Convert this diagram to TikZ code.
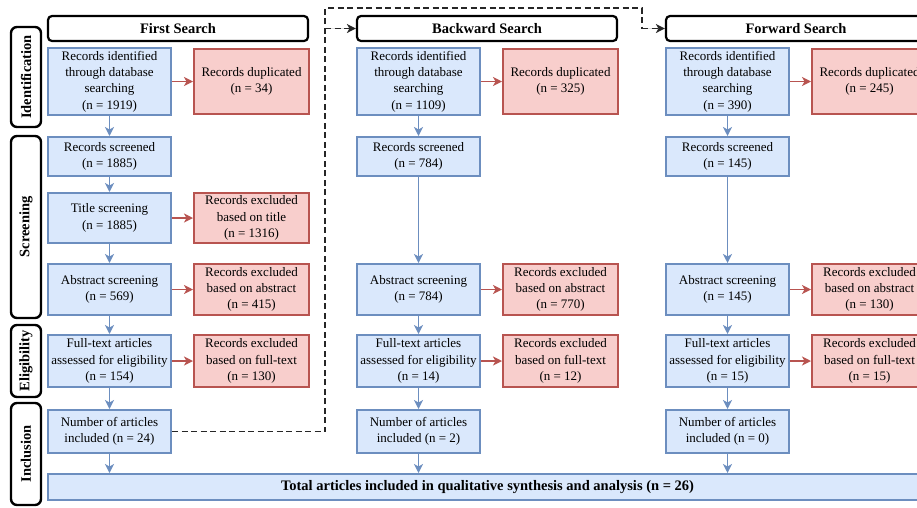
\documentclass[tikz,border=0pt]{standalone}
\usepackage{fontspec}
\setmainfont{Liberation Serif}
\usetikzlibrary{arrows.meta}
\definecolor{bfill}{HTML}{DAE8FC}
\definecolor{bdraw}{HTML}{6C8EBF}
\definecolor{rfill}{HTML}{F8CECC}
\definecolor{rdraw}{HTML}{B85450}
\begin{document}
\begin{tikzpicture}[x=1pt,y=-1pt,
  txt/.style={font=\fontsize{13}{16.3}\selectfont, align=center, inner sep=0pt},
  bbox/.style={txt, draw=bdraw, fill=bfill, line width=2pt, minimum width=123pt},
  rbox/.style={txt, draw=rdraw, fill=rfill, line width=2pt, minimum width=115pt},
  hdr/.style={draw=black, fill=white, line width=2.2pt, rounded corners=4pt, minimum width=260pt, minimum height=25pt, inner sep=0pt, font=\fontsize{14.5}{17}\selectfont\bfseries},
  side/.style={draw=black, line width=2.4pt, rounded corners=6pt, rotate=90, minimum height=30pt, inner sep=0pt, font=\fontsize{14.5}{17}\selectfont\bfseries},
  tip/.style={-{Stealth[length=9pt,width=9pt,inset=2.5pt]}},
  barr/.style={draw=bdraw, line width=1.6pt, tip, fill=bdraw},
  rarr/.style={draw=rdraw, line width=1.6pt, tip, fill=rdraw},
  darr/.style={draw=black!85, line width=1.6pt, dash pattern=on 6pt off 3.5pt},
]
\useasboundingbox (0,0) rectangle (917,507);
\clip (0,0) rectangle (917,507);

% side labels
\node[side, minimum width=100pt] (sId) at (26,77) {Identification};
\node[side, minimum width=182pt] (sSc) at (26,227) {Screening};
\node[side, minimum width=72pt] (sEl) at (26,361) {Eligibility};
\node[side, minimum width=102pt] (sIn) at (26,454) {Inclusion};

% columns
\foreach \k/\xo/\hd/\nid/\ndup/\nscr/\nabs/\nabx/\nft/\nftx/\ninc in {
  1/0/First Search/1919/34/1885/569/415/154/130/24,
  2/309/Backward Search/1109/325/784/784/770/14/12/2,
  3/618/Forward Search/390/245/145/145/130/15/15/0}{
  \node[hdr] (hd\k) at (178+\xo,28.5) {\hd};
  \node[bbox, minimum height=67pt] (id\k) at (109.5+\xo,81.5) {Records identified\\through database\\searching\\(n = \nid)};
  \node[rbox, minimum height=65pt] (dup\k) at (251.5+\xo,81.5) {Records duplicated\\(n = \ndup)};
  \node[bbox, minimum height=39pt] (scr\k) at (109.5+\xo,156.5) {Records screened\\(n = \nscr)};
  \node[bbox, minimum height=51pt] (abs\k) at (109.5+\xo,289.5) {Abstract screening\\(n = \nabs)};
  \node[rbox, minimum height=51pt] (abx\k) at (251.5+\xo,289.5) {Records excluded\\based on abstract\\(n = \nabx)};
  \node[bbox, minimum height=52pt] (ft\k) at (109.5+\xo,361) {Full-text articles\\assessed for eligibility\\(n = \nft)};
  \node[rbox, minimum height=52pt] (ftx\k) at (251.5+\xo,361) {Records excluded\\based on full-text\\(n = \nftx)};
  \node[bbox, minimum height=43pt] (inc\k) at (109.5+\xo,431.5) {Number of articles\\included (n = \ninc)};
  \draw[barr] (id\k) -- (scr\k);
  \draw[rarr] (id\k.east) -- (dup\k.west);
  \draw[rarr] (abs\k.east) -- (abx\k.west);
  \draw[rarr] (ft\k.east) -- (ftx\k.west);
  \draw[barr] (abs\k) -- (ft\k);
  \draw[barr] (ft\k) -- (inc\k);
}
\node[bbox, minimum height=50pt] (tit1) at (109.5,218) {Title screening\\(n = 1885)};
\node[rbox, minimum height=50pt] (tix1) at (251.5,218) {Records excluded\\based on title\\(n = 1316)};
\draw[rarr] (tit1.east) -- (tix1.west);
\draw[barr] (scr1) -- (tit1);
\draw[barr] (tit1) -- (abs1);
\draw[barr] (scr2) -- (abs2);
\draw[barr] (scr3) -- (abs3);

% total
\node[bbox, minimum width=879pt, minimum height=26pt, font=\fontsize{14.5}{17}\selectfont\bfseries] (tot) at (487.5,487) {Total articles included in qualitative synthesis and analysis (n = 26)};
\foreach \k in {1,2,3}{\draw[barr] (inc\k.south) -- (inc\k.south |- tot.north);}

% dashed connectors
\coordinate (d1) at (325,431.5);
\coordinate (d2) at (325,28.5);
\coordinate (d3) at (325,8);
\coordinate (d4) at (642,8);
\coordinate (d5) at (642,28.5);
\draw[darr] (inc1.east) -- (d1) -- (d3) -- (d4) -- (d5);
\draw[darr, tip, fill=black!85] (d5) -- (hd3.west);
\draw[darr, tip, fill=black!85] (d2) -- (hd2.west);
\end{tikzpicture}
\end{document}
